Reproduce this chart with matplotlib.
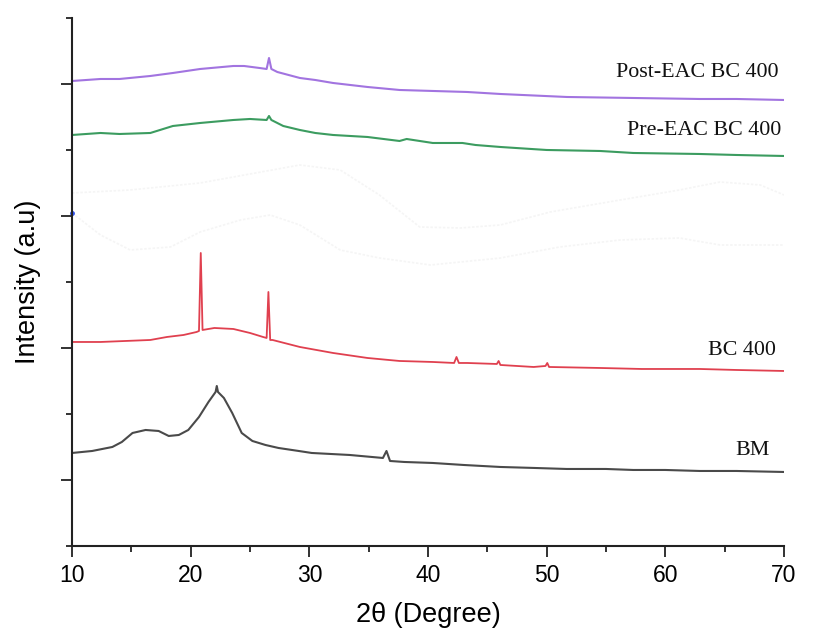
import matplotlib
matplotlib.use("Agg")
import matplotlib.pyplot as plt
from matplotlib.ticker import MultipleLocator, FixedLocator

# XRD patterns (2-theta in degrees, intensity in arbitrary units, stacked with offsets)
bm_2theta = [10, 11.7, 13.4, 14.2, 15.1, 16.2, 17.3, 18.15, 19.0, 19.8, 20.7, 21.5, 22.1,
             22.2, 22.3, 22.8, 23.5, 24.3, 25.2, 26.3, 27.4, 29.1, 30.2, 33.4, 36.2,
             36.5, 36.8, 38, 40.4, 43, 46.1, 49, 51.7, 55, 57.3, 60, 62.9, 66, 70]
bm_int = [93, 95, 99, 104, 113, 116, 115, 110, 111, 116, 129, 144, 154,
          160, 154, 148, 133, 113, 105, 101, 98, 95, 93, 91, 88,
          95, 85, 84, 83, 81, 79, 78, 77, 77, 76, 76, 75, 75, 74]

bc400_2theta = [10, 12.4, 14.5, 16.6, 18, 19.4, 20.5, 20.7, 20.85, 21.0, 22, 23.6, 25,
                26.1, 26.4, 26.55, 26.7, 26.9, 29.2, 32, 34.9, 37.6, 40.4, 42.2, 42.4,
                42.6, 43.3, 45.8, 45.95, 46.1, 48.9, 49.9, 50.05, 50.2, 54.5, 58, 62.9,
                66, 70]
bc400_int = [204, 204, 205, 206, 209, 211, 214, 215, 293, 216, 218, 217, 213,
             209, 208, 254, 206, 206, 199, 193, 188, 185, 184, 183, 189,
             183, 183, 182, 185, 181, 179, 180, 183, 179, 178, 177, 177,
             176, 175]

pre_2theta = [10, 12.4, 14, 16.6, 18.5, 20.8, 23.6, 25, 26.4, 26.6, 26.8, 27.8, 29.2,
              30.5, 32, 34.9, 37.6, 38.2, 40.4, 42.9, 44, 46.1, 50, 54.5, 57.3, 62.9,
              66, 70]
pre_int = [411, 413, 412, 413, 420, 423, 426, 427, 426, 430, 426, 420, 416,
           413, 411, 409, 405, 407, 403, 403, 401, 399, 396, 395, 393, 392,
           391, 390]

post_2theta = [10, 12.4, 14, 16.6, 18.5, 20.8, 23.6, 24.5, 25.8, 26.4, 26.6, 26.8, 27.3,
               29.2, 30.5, 32, 34.9, 37.6, 43.3, 46.1, 51.7, 57.3, 62.9, 66, 70]
post_int = [465, 467, 467, 470, 473, 477, 480, 480, 478, 477, 488, 477, 474,
            468, 466, 463, 459, 456, 454, 452, 449, 448, 447, 447, 446]

# faint traces left behind in the figure background
ghost_a_2theta = [10, 14.9, 20.8, 29.2, 32.6, 35.9, 39.3, 42.7, 46.1, 50.3, 56.2, 61.2,
                  64.6, 68, 70]
ghost_a_int = [353, 356, 363, 381, 376, 351, 319, 318, 321, 334, 346, 356,
               364, 361, 351]
ghost_b_2theta = [10, 12.4, 14.9, 18.3, 20.8, 24.2, 26.7, 29.2, 32.6, 35.9, 40.2, 46.1,
                  51.1, 56.2, 61.2, 64.6, 70]
ghost_b_int = [333, 311, 296, 299, 314, 326, 331, 321, 296, 288, 281, 288,
               299, 306, 308, 301, 301]

labels = ["Post-EAC BC 400", "Pre-EAC BC 400", "BC 400", "BM"]
label_y = [473, 415, 195, 95]
label_x = [69.5, 69.75, 69.3, 68.8]

fig = plt.figure(figsize=(8.22, 6.29), dpi=100)
ax = fig.add_axes([0.0876, 0.132, 0.8662, 0.8394])

ax.plot(ghost_a_2theta, ghost_a_int, color="#f5f5f5", lw=1.2, ls=(0, (1.5, 1)))
ax.plot(ghost_b_2theta, ghost_b_int, color="#f5f5f5", lw=1.2, ls=(0, (1.5, 1)))
ax.plot([10], [333], marker="o", ms=2.5, color="#3355ee", clip_on=False)

ax.plot(bm_2theta, bm_int, color="#4a4a4a", lw=1.5)
ax.plot(bc400_2theta, bc400_int, color="#e0404f", lw=1.3)
ax.plot(pre_2theta, pre_int, color="#3c9c60", lw=1.5)
ax.plot(post_2theta, post_int, color="#a274e0", lw=1.5)

for t, x, y in zip(labels, label_x, label_y):
    ax.text(x, y, t, ha="right", va="center", fontsize=15.8,
            family="Liberation Serif", color="#111111")

ax.set_xlim(10, 70)
ax.set_ylim(0, 528)
ax.xaxis.set_major_locator(MultipleLocator(10))
ax.xaxis.set_minor_locator(MultipleLocator(5))
ax.yaxis.set_major_locator(FixedLocator([66, 198, 330, 462]))
ax.yaxis.set_minor_locator(FixedLocator([0, 132, 264, 396, 528]))
ax.set_yticklabels([])

for s in ["top", "right"]:
    ax.spines[s].set_visible(False)
for s in ["left", "bottom"]:
    ax.spines[s].set_linewidth(1.5)
    ax.spines[s].set_color("#222222")

ax.tick_params(axis="both", which="major", direction="out", length=8, width=1.3,
               color="#222222")
ax.tick_params(axis="both", which="minor", direction="out", length=4.5, width=1.3,
               color="#222222")
ax.tick_params(axis="x", which="major", labelsize=16.5, pad=5)
for lbl in ax.get_xticklabels():
    lbl.set_family("Liberation Sans")

ax.set_xlabel("2θ (Degree)", fontsize=19.5, family="Liberation Sans", labelpad=11)
ax.set_ylabel("Intensity (a.u)", fontsize=19.5, family="Liberation Sans", labelpad=11)

fig.savefig("out.png", dpi=100)
